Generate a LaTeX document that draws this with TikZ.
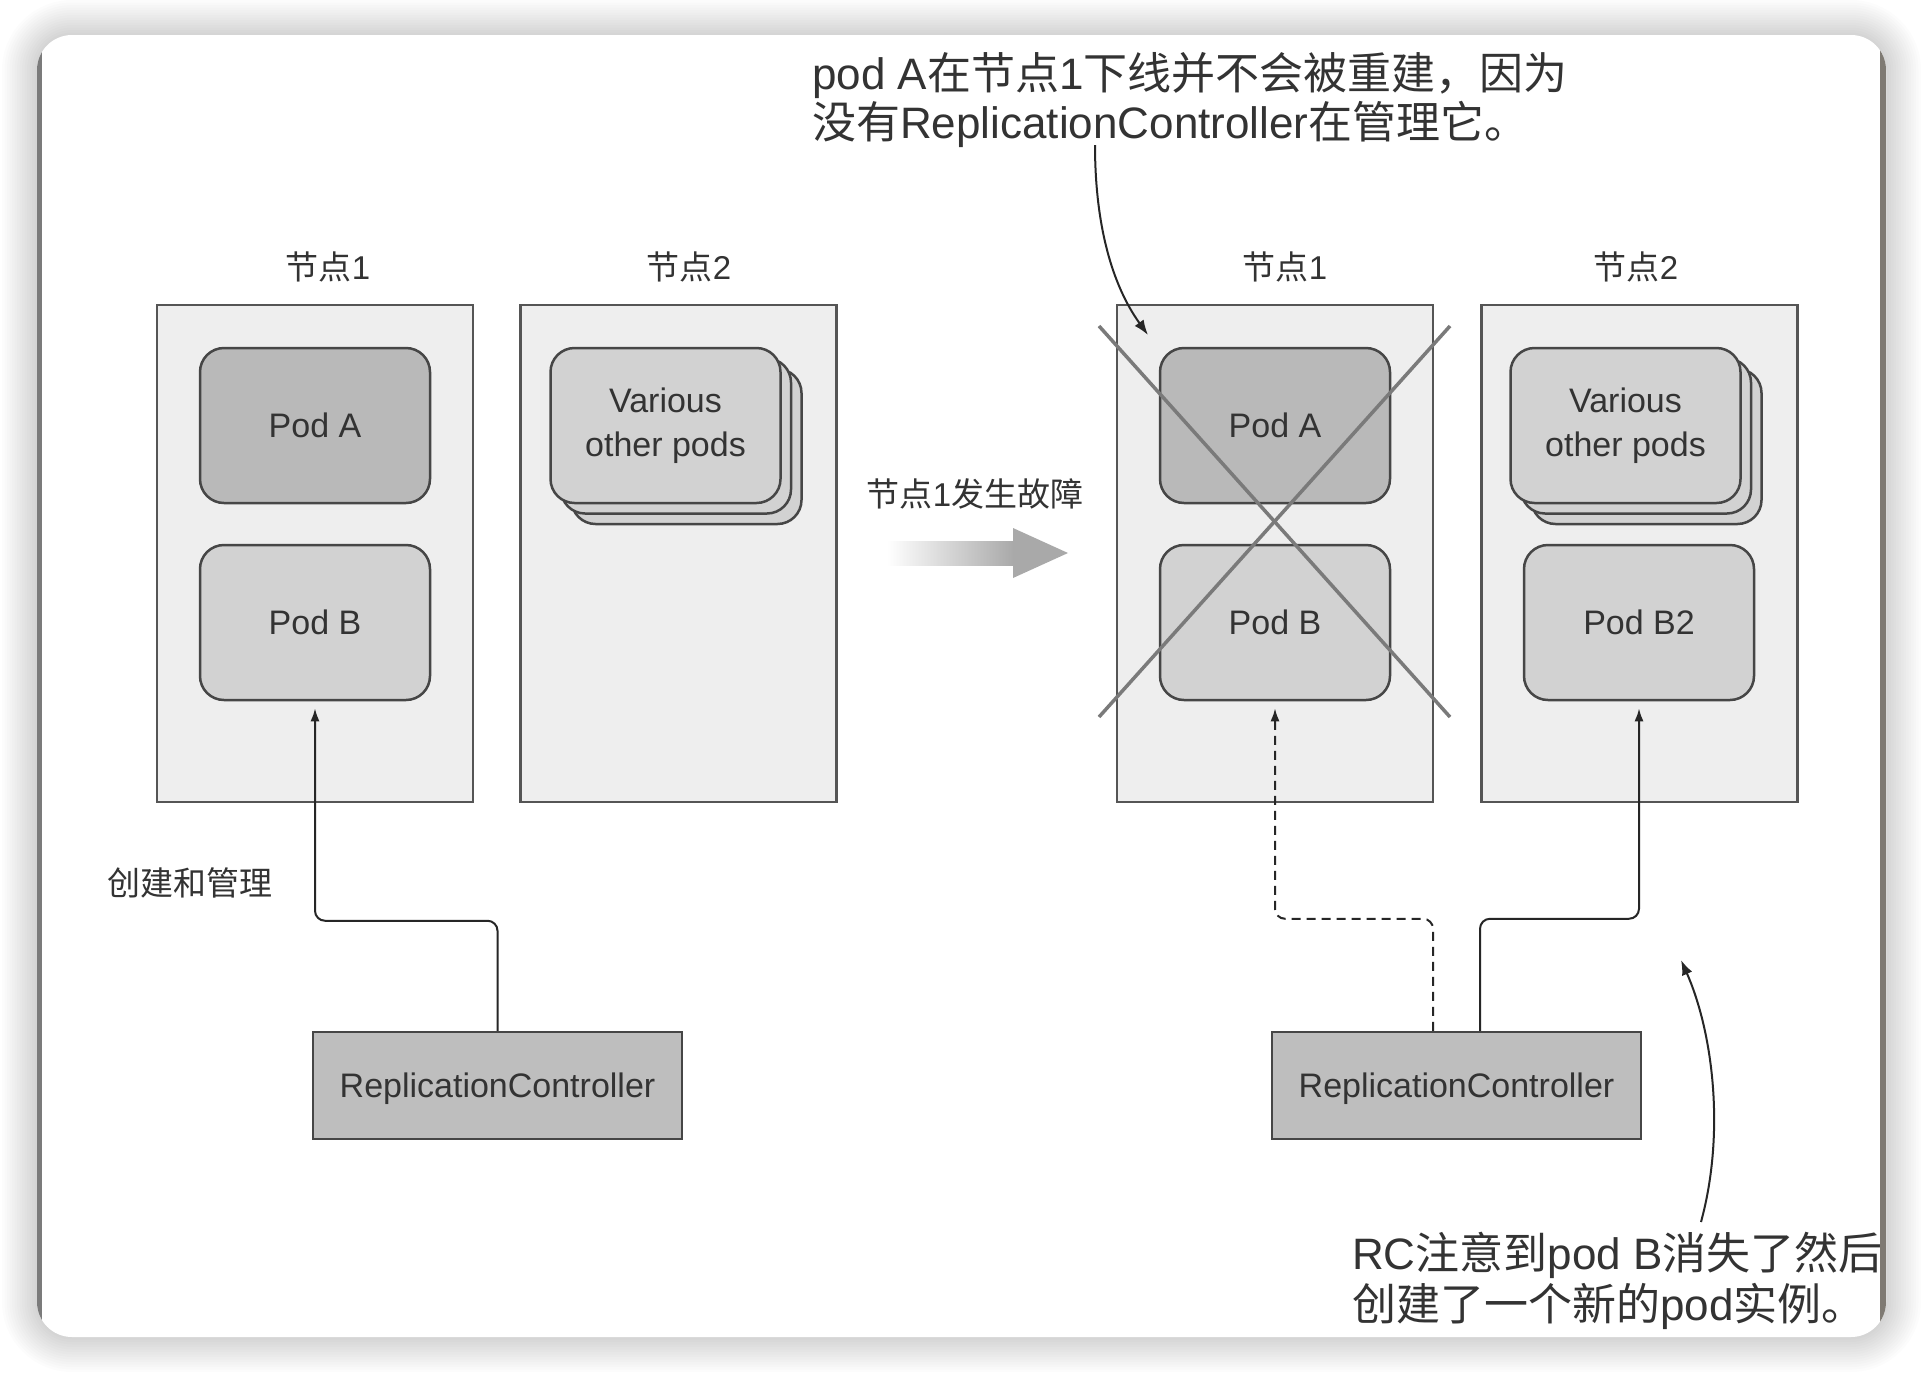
\documentclass[tikz,border=0pt]{standalone}
\usepackage{fontspec}
\setmainfont{Liberation Sans}
\newfontfamily\cjk{Noto Sans CJK SC}
\usetikzlibrary{arrows.meta}
\definecolor{txt}{HTML}{333333}
\definecolor{framefill}{HTML}{EEEEEE}
\definecolor{frameline}{HTML}{555555}
\definecolor{podA}{HTML}{B9B9B9}
\definecolor{podB}{HTML}{D2D2D2}
\definecolor{rcfill}{HTML}{BEBEBE}
\definecolor{podline}{HTML}{464646}
\definecolor{crossc}{HTML}{7A7A7A}
\definecolor{stripeL}{HTML}{7B7B7B}
\definecolor{stripeR}{HTML}{7F7A73}
\definecolor{arrowgray}{HTML}{A9A9A9}
\begin{document}
\begin{tikzpicture}[x=1pt,y=-1pt,
  nodeframe/.style={draw=frameline, line width=2.5pt, fill=framefill, minimum width=316pt, minimum height=497pt, inner sep=0pt},
  pod/.style={draw=podline, line width=2.5pt, rounded corners=24pt, minimum width=230pt, minimum height=155pt, inner sep=0pt, font=\fontsize{34}{44}\selectfont, text=txt, align=center},
  rc/.style={draw=podline, line width=2.5pt, fill=rcfill, minimum width=369pt, minimum height=107pt, inner sep=0pt},
  rctext/.style={font=\fontsize{34}{44}\selectfont, text=txt, inner sep=0pt, anchor=base},
  lbl/.style={font=\fontsize{33}{40}\selectfont, text=txt, inner sep=0pt, anchor=base},
  note/.style={font=\fontsize{44}{53}\selectfont, text=txt, inner sep=0pt, anchor=base west},
  conn/.style={draw=black!85, line width=2pt, rounded corners=10pt, -{Latex[length=13pt,width=9pt]}, shorten >=7pt},
  cross/.style={draw=crossc, line width=3.5pt},
  curvearrow/.style={draw=black!85, line width=2pt, -{Latex[length=15pt,width=11pt]}},
]
\useasboundingbox (0,0) rectangle (1922,1374);
\fill[white] (0,0) rectangle (1922,1374);
% card shadow
\foreach \i in {1,...,14}{
  \pgfmathsetmacro\rr{35+2.5*\i}
  \fill[black, opacity=0.012, rounded corners=\rr pt] ({37-2.5*\i},{35-2.5*\i}) rectangle ({1886+2.5*\i},{1337+2.5*\i});
}
\fill[white, rounded corners=35pt] (37,35) rectangle (1886,1337);
\begin{scope}
  \clip[rounded corners=35pt] (37,35) rectangle (1886,1337);
  \fill[stripeL] (37,35) rectangle (42,1337);
  \fill[stripeR] (1880,35) rectangle (1886,1337);
\end{scope}

% left side frames
\node[nodeframe] (ln1) at (315,553.5) {};
\node[nodeframe] (ln2) at (678.5,553.5) {};
\node[lbl] (ln1l) at (328,279) {{\cjk 节点}1};
\node[lbl] (ln2l) at (689,279) {{\cjk 节点}2};
\node[pod, fill=podA] (lpa) at (315,425.5) {Pod A};
\node[pod, fill=podB] (lpb) at (315,622.5) {Pod B};
\node[pod, fill=podB] (lvo3) at (686.5,446.5) {};
\node[pod, fill=podB] (lvo2) at (676,436) {};
\node[pod, fill=podB] (lvo) at (665.5,425.5) {Various\\other pods};

% failure arrow
\shade[left color=white, right color=arrowgray] (887,541) rectangle (1014,565);
\fill[arrowgray] (1013,528) -- (1068,553) -- (1013,578) -- cycle;
\node[lbl] (fail) at (975,506) {{\cjk 节点}1{\cjk 发生故障}};

% right side frames
\node[nodeframe] (rn1) at (1275,553.5) {};
\node[nodeframe] (rn2) at (1639.5,553.5) {};
\node[lbl] (rn1l) at (1285,279) {{\cjk 节点}1};
\node[lbl] (rn2l) at (1636,279) {{\cjk 节点}2};
\node[pod, fill=podA] (rpa) at (1275,425.5) {Pod A};
\node[pod, fill=podB] (rpb) at (1275,622.5) {Pod B};
\node[pod, fill=podB] (rvo3) at (1646.5,446.5) {};
\node[pod, fill=podB] (rvo2) at (1636,436) {};
\node[pod, fill=podB] (rvo) at (1625.5,425.5) {Various\\other pods};
\node[pod, fill=podB] (rpb2) at (1639,622.5) {Pod B2};
\draw[cross] (1099,326) -- (1450,717);
\draw[cross] (1450,326) -- (1099,717);

% replication controllers
\node[rc] (lrc) at (497.5,1085.5) {};
\node[rctext] at (497.5,1097) {ReplicationController};
\node[rc] (rrc) at (1456.5,1085.5) {};
\node[rctext] at (1456.5,1097) {ReplicationController};

% connectors
\draw[conn] (lrc.north) -- ++(0,-110) -| (lpb.south);
\node[lbl] (mng) at (190,895) {\cjk 创建和管理};
\draw[conn, dash pattern=on 9pt off 6pt] ([xshift=-23.5pt]rrc.north) -- ++(0,-112) -| (rpb.south);
\draw[conn] ([xshift=23.5pt]rrc.north) -- ++(0,-112) -| (rpb2.south);

% top note
\node[note] (tn1) at (812,89) {pod A{\cjk 在节点}1{\cjk 下线并不会被重建，因为}};
\node[note] (tn2) at (812,138) {{\cjk 没有}ReplicationController{\cjk 在管理它。}};
\coordinate (ta) at (1095,145);
\coordinate (tb) at (1148,335);
\draw[curvearrow] (ta) .. controls (1095,225) and (1112,285) .. (tb);

% bottom note
\begin{scope}
  \clip (0,0) rectangle (1880,1374);
  \node[note] (bn1) at (1352,1269) {RC{\cjk 注意到}pod B{\cjk 消失了然后}};
  \node[note] (bn2) at (1352,1320) {{\cjk 创建了一个新的}pod{\cjk 实例。}};
\end{scope}
\coordinate (ba) at (1701,1222);
\coordinate (bb) at (1681,960);
\draw[curvearrow] (ba) .. controls (1726,1130) and (1712,1030) .. (bb);
\end{tikzpicture}
\end{document}
